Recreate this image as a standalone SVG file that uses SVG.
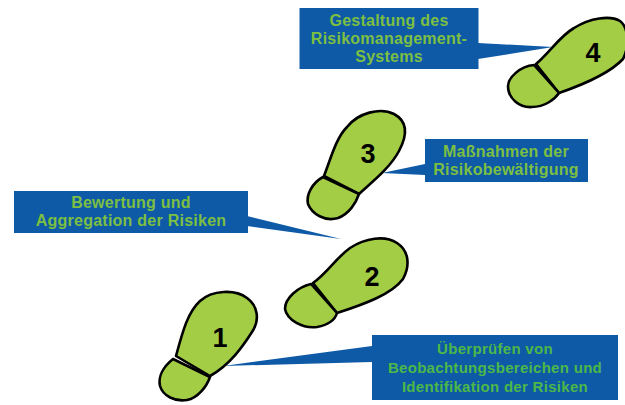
<svg xmlns="http://www.w3.org/2000/svg" width="625" height="405" viewBox="0 0 625 405">
<style>
.box{fill:#0e5aa7}
.sole{fill:#a2cd45;stroke:#000;stroke-width:2.6;stroke-linejoin:round;stroke-linecap:round}
.num{font:bold 27px "Liberation Sans",Arial,sans-serif;fill:#000;text-anchor:middle}
.lbl{font:bold 16px "Liberation Sans",Arial,sans-serif;fill:#7cbf42;text-anchor:middle;letter-spacing:.25px}
.lbl2{font-size:15px;fill:#4cb848;letter-spacing:.3px}
</style>
<rect width="625" height="405" fill="#fff"/>
<g id="connectors">
<path class="box" d="M478 43L553 47L478 59Z"/>
<path class="box" d="M425 164L382 173L425 175Z"/>
<path class="box" d="M247 216L341 239L247 226Z"/>
<path class="box" d="M372 346L223 366L372 362Z"/>
</g>
<g id="node-1">
<path class="sole" d="M176 356C183 330 188 312 200 301C212 290 235 289 247 298C258 306 260 320 252 332C243 346 230 365 210 376Z"/>
<path class="sole" d="M173 359C163 367 158 377 160 386C163 396 175 402 187 400C198 398 207 386 210 377Z"/>
<text class="num" x="220" y="347">1</text>
</g>
<g id="node-2">
<path class="sole" d="M313 283C328 272 336 258 350 248C365 238 385 235 397 243C408 250 411 264 403 279C392 294 365 304 337 313Z"/>
<path class="sole" d="M311 284C298 287 285 298 285 309C287 320 303 329 317 327C328 325 335 320 337 313Z"/>
<text class="num" x="372" y="286">2</text>
</g>
<g id="node-3">
<path class="sole" d="M324 176C331 158 336 138 347 127C358 113 380 107 394 114C407 121 408 134 399 151C390 168 372 182 359 194Z"/>
<path class="sole" d="M323 177C312 183 306 195 308 204C312 214 325 222 338 218C349 214 356 203 359 194Z"/>
<text class="num" x="368" y="163">3</text>
</g>
<g id="node-4">
<path class="sole" d="M536 64C550 52 560 36 574 28C590 18 610 15 620 21C628 27 630 45 623 59C610 73 585 84 559 93Z"/>
<path class="sole" d="M534 65C520 66 508 78 508 86C508 99 520 108 532 107C545 107 555 99 559 93Z"/>
<text class="num" x="593" y="62">4</text>
</g>
<g id="node-box-4">
<rect class="box" x="299.500" y="8" width="179" height="61"/>
<text class="lbl" x="389" y="26">Gestaltung des</text>
<text class="lbl" x="389" y="44">Risikomanagement-</text>
<text class="lbl" x="389" y="62">Systems</text>
</g>
<g id="node-box-3">
<rect class="box" x="425" y="139" width="163" height="43"/>
<text class="lbl" x="506" y="157">Maßnahmen der</text>
<text class="lbl" x="506" y="175">Risikobewältigung</text>
</g>
<g id="node-box-2">
<rect class="box" x="14" y="191" width="234" height="42"/>
<text class="lbl" x="131" y="208">Bewertung und</text>
<text class="lbl" x="131" y="226">Aggregation der Risiken</text>
</g>
<g id="node-box-1">
<rect class="box" x="372" y="335" width="246" height="65"/>
<text class="lbl lbl2" x="495" y="354">Überprüfen von</text>
<text class="lbl lbl2" x="495" y="373">Beobachtungsbereichen und</text>
<text class="lbl lbl2" x="495" y="392">Identifikation der Risiken</text>
</g>
</svg>
